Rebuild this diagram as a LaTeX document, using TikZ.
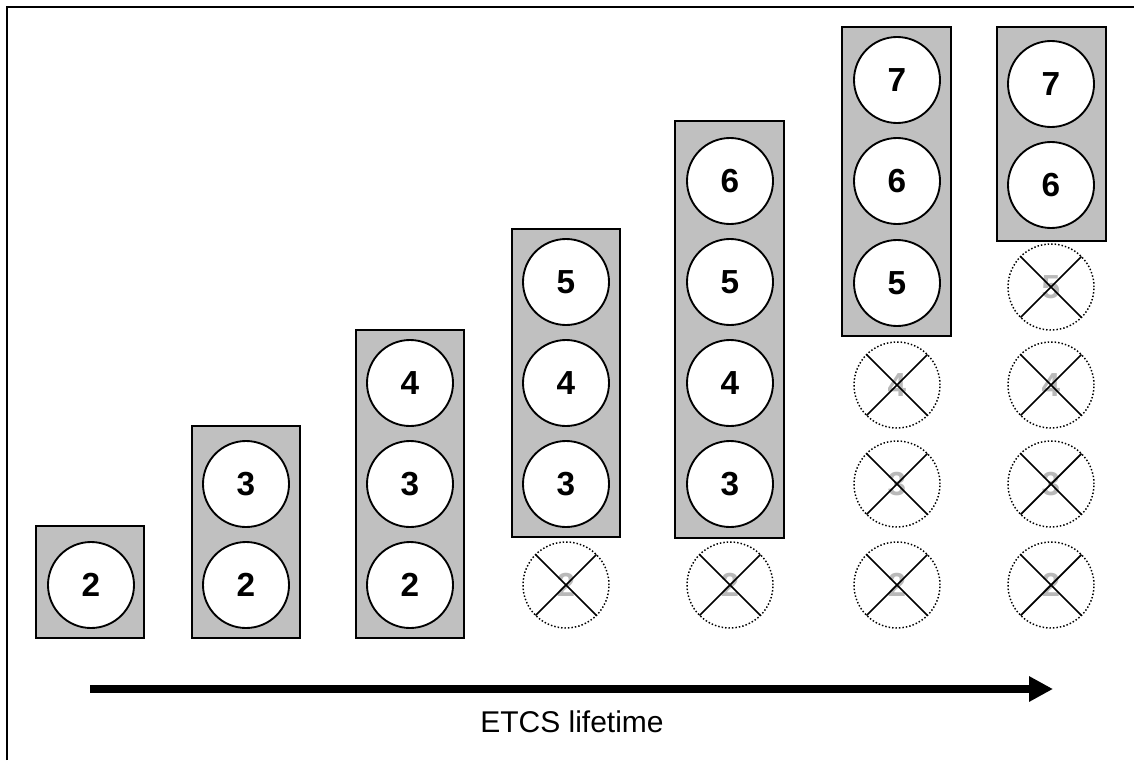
\documentclass[tikz,border=0pt]{standalone}
\usepackage{fontspec}
\setmainfont{Liberation Sans}
\usetikzlibrary{arrows.meta,fit}
\definecolor{boxgray}{RGB}{192,192,192}
\definecolor{ghost}{RGB}{185,185,185}
\begin{document}
\begin{tikzpicture}[x=0.75pt,y=-0.75pt,
  grpbox/.style={draw=black, fill=boxgray, line width=1.5pt, inner sep=0pt, outer sep=0pt},
  numfont/.style={font=\fontsize{25}{30}\selectfont\bfseries},
  sig/.style={circle, draw=black, fill=white, line width=1.4pt, minimum size=64.5pt, inner sep=0pt, outer sep=0pt, numfont},
  gone/.style={circle, draw=black, line width=1.1pt, dash pattern=on 1.1pt off 1.5pt, minimum size=64.5pt, inner sep=0pt, outer sep=0pt, text=ghost, numfont},
  xline/.style={draw=black, line width=1.3pt},
  frameline/.style={draw=black, line width=1.2pt},
  lifearrow/.style={draw=black, line width=6pt, -{Triangle[length=18pt,width=18pt]}},
  lbl/.style={font=\fontsize{22.5}{27}\selectfont, inner sep=0pt}]
\useasboundingbox (0,0) rectangle (1134,760);
% frame
\coordinate (fbl) at (7,760);
\coordinate (ftl) at (7,7);
\coordinate (ftr) at (1134,7);
\draw[frameline] (fbl) -- (ftl) -- (ftr);
% column 1
\node[grpbox, fit={(36,526) (144,638)}] (b1) {};
\node[sig] (c1a) at (91,585) {2};
% column 2
\node[grpbox, fit={(192,426) (300,638)}] (b2) {};
\node[sig] (c2b) at (246,484) {3};
\node[sig] (c2a) at (246,585) {2};
% column 3
\node[grpbox, fit={(356,330) (464,638)}] (b3) {};
\node[sig] (c3c) at (410,383) {4};
\node[sig] (c3b) at (410,484) {3};
\node[sig] (c3a) at (410,585) {2};
% column 4
\node[grpbox, fit={(512,229) (620,537)}] (b4) {};
\node[sig] (c4d) at (566,282) {5};
\node[sig] (c4c) at (566,383) {4};
\node[sig] (c4b) at (566,484) {3};
\node[gone] (g4a) at (566,585) {2};
% column 5
\node[grpbox, fit={(675,121) (784,538)}] (b5) {};
\node[sig] (c5e) at (730,181) {6};
\node[sig] (c5d) at (730,282) {5};
\node[sig] (c5c) at (730,383) {4};
\node[sig] (c5b) at (730,484) {3};
\node[gone] (g5a) at (730,585) {2};
% column 6
\node[grpbox, fit={(842,27) (951,336)}] (b6) {};
\node[sig] (c6f) at (897,80) {7};
\node[sig] (c6e) at (897,181) {6};
\node[sig] (c6d) at (897,283) {5};
\node[gone] (g6c) at (897,385) {4};
\node[gone] (g6b) at (897,484) {3};
\node[gone] (g6a) at (897,585) {2};
% column 7
\node[grpbox, fit={(997,27) (1106,241)}] (b7) {};
\node[sig] (c7f) at (1051,84) {7};
\node[sig] (c7e) at (1051,185) {6};
\node[gone] (g7d) at (1051,287) {5};
\node[gone] (g7c) at (1051,385) {4};
\node[gone] (g7b) at (1051,484) {3};
\node[gone] (g7a) at (1051,585) {2};
% crosses
\foreach \g in {g4a,g5a,g6a,g6b,g6c,g7a,g7b,g7c,g7d}{
  \draw[xline] (\g.north west) -- (\g.south east);
  \draw[xline] (\g.north east) -- (\g.south west);
}
% lifetime arrow
\coordinate (as) at (90,689);
\coordinate (ae) at (1053,689);
\draw[lifearrow] (as) -- (ae);
\node[lbl] (lt) at (572,722) {ETCS lifetime};
\end{tikzpicture}
\end{document}
